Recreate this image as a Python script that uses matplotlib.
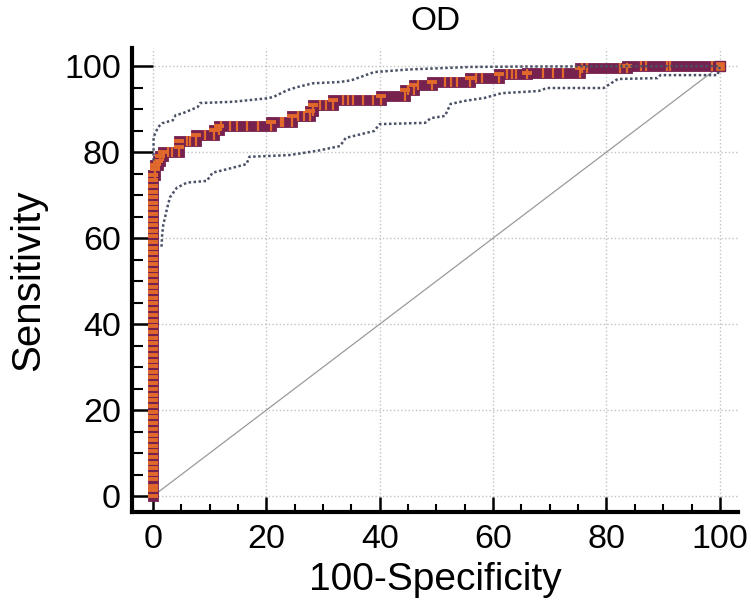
import matplotlib

matplotlib.use("Agg")
import matplotlib.pyplot as plt
from matplotlib.ticker import MultipleLocator

# sensitivities stacked at 100-Specificity = 0
ROC_TPR_AT_ZERO = [
    0, 1.3, 2.4, 3.9, 5.1, 6.6, 7.8, 9.0, 10.5, 11.6, 13.0, 14.3, 15.7, 16.9,
    18.4, 19.6, 21.0, 22.3, 23.5, 25.0, 26.2, 27.7, 28.9, 30.3, 31.5, 32.9,
    34.2, 35.6, 36.8, 38.2, 39.5, 40.8, 42.1, 43.4, 44.8, 46.0, 47.4, 48.6,
    50.0, 51.3, 52.6, 53.9, 55.2, 56.5, 57.8, 59.1, 60.4, 61.7, 63.0, 64.3,
    65.6, 66.9, 68.2, 69.5, 70.8, 72.1, 73.4, 74.7,
]
# rest of the ROC curve as (100-Specificity, Sensitivity) vertices
ROC_REST = [
    (0.4, 74.7), (0.4, 76.0), (0.4, 77.0), (0.8, 77.0), (0.8, 78.0),
    (1.2, 78.0), (1.2, 79.0), (1.8, 79.0), (1.8, 80.0), (2.6, 80.0),
    (3.4, 80.0), (4.6, 80.0), (4.6, 81.2), (4.6, 82.5), (6.0, 82.5),
    (6.5, 82.5), (7.6, 82.5), (7.6, 84.0), (9.2, 84.0), (10.8, 84.0),
    (10.8, 85.1), (11.6, 85.1), (11.6, 86.0), (12.0, 86.0), (13.6, 86.0),
    (14.8, 86.0), (16.6, 86.0), (18.6, 86.0), (20.8, 86.0), (20.8, 87.0),
    (22.5, 87.0), (23.0, 87.0), (24.6, 87.0), (24.6, 88.3), (25.5, 88.3),
    (26.6, 88.3), (27.7, 88.3), (27.7, 89.6), (28.3, 89.6), (28.3, 90.9),
    (29.5, 90.9), (30.6, 90.9), (31.8, 90.9), (31.8, 92.2), (33.5, 92.2),
    (34.4, 92.2), (35.3, 92.2), (37.0, 92.2), (38.8, 92.2), (40.2, 92.2),
    (40.2, 93.0), (44.4, 93.0), (44.4, 94.5), (45.0, 94.5), (46.0, 94.5),
    (46.0, 95.6), (46.8, 95.6), (49.2, 95.6), (49.2, 96.3), (51.5, 96.3),
    (52.6, 96.3), (53.6, 96.3), (56.0, 96.3), (56.0, 97.3), (57.0, 97.3),
    (58.0, 97.3), (61.0, 97.3), (61.0, 98.2), (62.4, 98.2), (63.3, 98.2),
    (64.0, 98.2), (66.0, 98.2), (66.0, 98.5), (68.8, 98.5), (70.5, 98.5),
    (72.3, 98.5), (75.3, 98.5), (75.3, 99.5), (75.7, 99.5), (76.5, 99.5),
    (82.4, 99.5), (83.6, 99.5), (83.6, 100.0), (86.0, 100.0), (87.0, 100.0),
    (90.6, 100.0), (91.2, 100.0), (98.6, 100.0), (100.0, 100.0),
]

# 95% confidence bounds
UPPER = [
    (0.1, 78.0), (0.1, 83.5), (0.9, 85.8), (1.6, 86.7), (3.5, 87.4),
    (4.0, 88.6), (5.2, 89.0), (7.9, 90.5), (8.3, 91.4), (14.1, 91.7),
    (20.1, 92.5), (21.2, 92.8), (23.7, 94.4), (25.4, 95.1), (28.2, 96.0),
    (33.0, 96.3), (35.0, 96.7), (39.0, 98.6), (45.0, 99.2), (56.0, 99.8),
    (66.0, 99.9), (100.0, 100.0),
]
LOWER = [
    (1.5, 58.0), (1.6, 60.5), (1.8, 63.0), (2.5, 67.0), (3.0, 69.5),
    (4.2, 71.7), (6.0, 72.9), (9.5, 73.3), (10.5, 75.2), (13.0, 76.0),
    (16.5, 77.2), (17.0, 78.9), (24.0, 79.3), (29.0, 80.3), (33.0, 81.4),
    (34.0, 83.3), (39.0, 84.9), (40.0, 86.5), (48.0, 86.8), (49.0, 87.9),
    (51.5, 88.4), (52.5, 91.2), (55.0, 91.9), (58.5, 92.6), (61.5, 93.7),
    (68.0, 94.2), (69.5, 94.9), (79.5, 94.9), (82.0, 97.0), (89.0, 97.2),
    (89.5, 97.9), (99.6, 97.9), (100.0, 100.0),
]

MAROON = "#77214F"
ORANGE = "#E2692C"
BAND = "#4A5166"
GRID = "#C2C2C2"

plt.rcParams["font.family"] = ["Liberation Sans", "DejaVu Sans"]

roc_x = [0.0] * len(ROC_TPR_AT_ZERO) + [p[0] for p in ROC_REST]
roc_y = list(ROC_TPR_AT_ZERO) + [p[1] for p in ROC_REST]

# stripe orientation follows the direction the curve is moving at each point
vert_x, vert_y, horiz_x, horiz_y = [], [], [], []
for i, (x, y) in enumerate(zip(roc_x, roc_y)):
    if i == 0 or x == roc_x[i - 1]:
        vert_x.append(x)
        vert_y.append(y)
    else:
        horiz_x.append(x)
        horiz_y.append(y)

fig = plt.figure(figsize=(7.51, 6.01), dpi=100)
ax = fig.add_axes([0.1758, 0.1481, 0.8069, 0.772])

ax.grid(which="major", color=GRID, linestyle=":", linewidth=1.0)
ax.plot([0, 100], [0, 100], color="#9A9A9A", linewidth=0.9, zorder=2)

ax.plot(roc_x, roc_y, color=MAROON, linewidth=7.8, solid_joinstyle="miter",
        solid_capstyle="projecting", zorder=3)
ax.plot(vert_x, vert_y, linestyle="none", marker="_", markersize=6.8,
        markeredgecolor=ORANGE, markeredgewidth=2.8, zorder=4)
ax.plot(horiz_x, horiz_y, linestyle="none", marker="|", markersize=6.5,
        markeredgecolor=ORANGE, markeredgewidth=1.6, zorder=4)
ax.plot(roc_x[-1:], roc_y[-1:], linestyle="none", marker="s", markersize=7.0,
        markerfacecolor=ORANGE, markeredgecolor=MAROON, markeredgewidth=1.0, zorder=4)

for bound in (UPPER, LOWER):
    ax.plot([p[0] for p in bound], [p[1] for p in bound], color=BAND,
            linestyle=(0, (1, 1)), linewidth=1.8, zorder=5)

ax.set_xlim(-3.7, 103.2)
ax.set_ylim(-3.7, 104.2)
ax.xaxis.set_major_locator(MultipleLocator(20))
ax.xaxis.set_minor_locator(MultipleLocator(5))
ax.yaxis.set_major_locator(MultipleLocator(20))
ax.yaxis.set_minor_locator(MultipleLocator(5))

for side in ("top", "right"):
    ax.spines[side].set_visible(False)
for side in ("left", "bottom"):
    ax.spines[side].set_linewidth(3)

ax.tick_params(axis="x", which="major", direction="in", length=11, width=1.8,
               labelsize=24.5, pad=9)
ax.tick_params(axis="x", which="minor", direction="in", length=5.5, width=1.5)
ax.tick_params(axis="y", which="major", direction="in", length=15, width=1.8,
               labelsize=24.5, pad=8)
ax.tick_params(axis="y", which="minor", direction="in", length=8, width=1.5)

ax.set_title("OD", fontsize=24, pad=13)
ax.set_xlabel("100-Specificity", fontsize=28, labelpad=5)
ax.set_ylabel("Sensitivity", fontsize=29, labelpad=12)

fig.savefig("out.png", dpi=100, facecolor="white")
